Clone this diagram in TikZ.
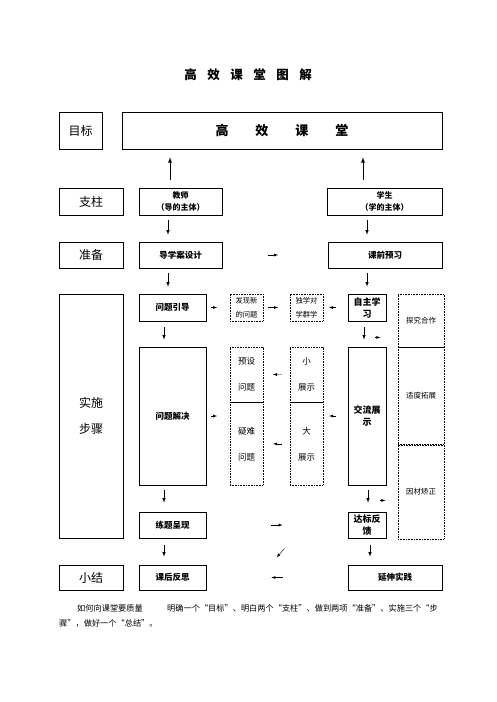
\documentclass[tikz,border=0pt]{standalone}
\usepackage{fontspec}
\setmainfont{Noto Sans CJK SC}
\usetikzlibrary{arrows,positioning,calc}

\begin{document}
\begin{tikzpicture}[x=1pt,
            y=-1pt,
            >=latex,
            lbl/.style={draw,thin,font=\fontsize{12}{14}\selectfont,align=center},
            box/.style={draw,semithick,font=\bfseries\fontsize{8.5}{12}\selectfont,align=center,inner sep=1pt},
            dbox/.style={draw,thin,dash pattern=on .8pt off .8pt,font=\fontsize{7.3}{14}\selectfont,align=center,inner sep=1pt},
            arr/.style={->,semithick},
            tip/.style={->,thin}]

        \useasboundingbox (0,0) rectangle (496,702);

        % title and goal
        \node (title) at (248,75) {\bfseries\fontsize{12.5}{14}\selectfont 高\hspace{10.5pt}效\hspace{10.5pt}课\hspace{10.5pt}堂\hspace{10.5pt}图\hspace{10.5pt}解};
        \node[lbl,minimum width=43,minimum height=37]  (goal)   at (80.5,130.5) {目标};
        \node[box,minimum width=320,minimum height=37,font=\bfseries\fontsize{13}{15}\selectfont]
                                                       (target) at (282,130.5) {高\hspace{27pt}效\hspace{27pt}课\hspace{27pt}堂};

        % pillars and preparation
        \node[lbl,minimum width=64,minimum height=27]  (pillar)  at (91,201.5)  {支柱};
        \node[box,minimum width=83,minimum height=27,font=\bfseries\fontsize{8}{12}\selectfont]
                                                       (teacher) at (180.5,201.5) {教师\\（导的主体）};
        \node[box,minimum width=115,minimum height=27,font=\bfseries\fontsize{8}{12}\selectfont]
                                                       (student) at (384.5,201.5) {学生\\（学的主体）};
        \node[lbl,minimum width=64,minimum height=26]  (prep)    at (91,255)    {准备};
        \node[box,minimum width=83,minimum height=26]  (design)  at (180.5,255) {导学案设计};
        \node[box,minimum width=114,minimum height=26] (preview) at (385,255)   {课前预习};

        % steps
        \node[lbl,minimum width=64,minimum height=244,font=\fontsize{12}{26}\selectfont]
                                                       (impl)     at (91,416)    {实施\\步骤};
        \node[box,minimum width=67,minimum height=27]  (guide)    at (172.5,307.5) {问题引导};
        \node[dbox,minimum width=33,minimum height=27] (discover) at (246.5,307.5) {发现新\\的问题};
        \node[dbox,minimum width=33,minimum height=27] (group)    at (306.5,307.5) {独学对\\学群学};
        \node[box,thick,minimum width=38,minimum height=27,font=\bfseries\fontsize{9}{12}\selectfont]
                                                       (self)     at (367,307.5)   {自主学\\习};
        \node[dbox,minimum width=46,minimum height=53,font=\fontsize{7.5}{9}\selectfont]
                                                       (explore)  at (421,320.5)   {探究合作};
        \node[dbox,minimum width=46,minimum height=97,font=\fontsize{7.5}{9}\selectfont,below=0pt of explore]
                                                       (extend)                    {适度拓展};
        \node[dbox,minimum width=46,minimum height=94,font=\fontsize{7.5}{9}\selectfont,below=0pt of extend]
                                                       (correct)                   {因材矫正};

        \node[box,minimum width=67,minimum height=138] (solve)  at (172.5,416)   {问题解决};
        \node[dbox,minimum width=33,minimum height=55,font=\fontsize{8.5}{26}\selectfont]
                                                       (preset) at (246.5,374.5) {预设\\问题};
        \node[dbox,minimum width=33,minimum height=83,font=\fontsize{8.5}{26}\selectfont,below=0pt of preset]
                                                       (hard)                    {疑难\\问题};
        \node[dbox,minimum width=33,minimum height=55,font=\fontsize{8.5}{26}\selectfont]
                                                       (small)  at (306.5,374.5) {小\\展示};
        \node[dbox,minimum width=33,minimum height=83,font=\fontsize{8.5}{26}\selectfont,below=0pt of small]
                                                       (big)                     {大\\展示};
        \node[box,thick,minimum width=38,minimum height=138,font=\bfseries\fontsize{9}{12}\selectfont]
                                                       (show)   at (367,416)     {交流展\\示};

        \node[box,minimum width=67,minimum height=26]  (practice) at (172.5,525) {练题呈现};
        \node[box,thick,minimum width=38,minimum height=26,font=\bfseries\fontsize{9}{12}\selectfont]
                                                       (feedback) at (367,525)   {达标反\\馈};

        % summary
        \node[lbl,minimum width=64,minimum height=25]  (summary)   at (91,577.5)  {小结};
        \node[box,minimum width=67,minimum height=25]  (reflect)   at (172.5,577.5) {课后反思};
        \node[box,minimum width=94,minimum height=25]  (extension) at (395,577.5) {延伸实践};

        % note below
        \node[anchor=base west,inner sep=0,font=\fontsize{8.2}{15}\selectfont] (howto)   at (77,611) {如何向课堂要质量};
        \node[anchor=base west,inner sep=0,font=\fontsize{8.2}{15}\selectfont] (answer)  at (167,611) {明确一个“目标”、明白两个“支柱”、做到两项“准备”、实施三个“步};
        \node[anchor=base west,inner sep=0,font=\fontsize{8.2}{15}\selectfont] (answerb) at (59,626) {骤”，做好一个“总结”。};

        % vertical arrows
        \draw[arr,thick,shorten <=8,shorten >=8] ([xshift=-10.5]teacher.north) -- ([xshift=-10.5]teacher.north |- target.south);
        \draw[arr,thick,shorten <=8,shorten >=8] ([xshift=-21.5]student.north) -- ([xshift=-21.5]student.north |- target.south);
        \draw[arr,shorten <=5,shorten >=7] ([xshift=-12.5]teacher.south) -- ([xshift=-12.5]teacher.south |- design.north);
        \draw[arr,shorten <=5,shorten >=7] ([xshift=-17.5]student.south) -- ([xshift=-17.5]student.south |- preview.north);
        \draw[arr,shorten <=5,shorten >=7] ([xshift=-12.5]design.south) -- ([xshift=-12.5]design.south |- guide.north);
        \draw[arr,shorten <=5,shorten >=7] (self.north |- preview.south) -- (self.north);
        \draw[arr,shorten <=6,shorten >=7] ([xshift=-8.5]guide.south) -- ([xshift=-8.5]solve.north);
        \draw[arr,shorten <=6,shorten >=7] ([xshift=-3]self.south) -- ([xshift=-3]show.north);
        \draw[arr,shorten <=5,shorten >=9] ([xshift=-8.5]solve.south) -- ([xshift=-8.5]practice.north);
        \draw[arr,shorten <=5,shorten >=9] ([xshift=1]show.south) -- ([xshift=1]feedback.north);
        \draw[arr,shorten <=7,shorten >=8] ([xshift=-8.5]practice.south) -- ([xshift=-8.5]reflect.north);
        \draw[arr,shorten <=7,shorten >=8] ([xshift=3]feedback.south) -- ([xshift=3]feedback.south |- extension.north);

        % small arrows
        \draw[tip] ($(design.east)!.43!(preview.west)$) -- ($(design.east)!.53!(preview.west)$);
        \draw[tip] ($(guide.east)!.21!(discover.west)$) -- ($(guide.east)!.46!(discover.west)$);
        \draw[tip] ($(discover.east)!.19!(group.west)$) -- ($(discover.east)!.56!(group.west)$);
        \draw[tip] ($(group.east)!.52!(self.west)$) -- ($(group.east)!.24!(self.west)$);
        \draw[tip] ([shift={(-11,16)}]self.south east) -- ([shift={(-6,16)}]self.south east);
        \draw[tip] ($(solve.east)!.21!(solve.east -| preset.west)$) -- ($(solve.east)!.46!(solve.east -| preset.west)$);
        \draw[tip] ($(preset.east)!.70!(small.west)$) -- ($(preset.east)!.37!(small.west)$);
        \draw[tip] ($(hard.east)!.70!(big.west)$) -- ($(hard.east)!.37!(big.west)$);
        \draw[tip] ($(show.west)!.48!(show.west -| big.east)$) -- ($(show.west)!.76!(show.west -| big.east)$);
        \draw[tip] ([shift={(-6,15)}]show.south east) -- ([shift={(-1,15)}]show.south east);
        \draw[tip] ($(practice.east)!.46!(feedback.west)$) -- ($(practice.east)!.54!(feedback.west)$);
        \draw[tip] ([shift={(-63,10)}]feedback.south west) -- ([shift={(-71,19)}]feedback.south west);
        \draw[tip] ($(reflect.east)!.54!(extension.west)$) -- ($(reflect.east)!.46!(extension.west)$);

    \end{tikzpicture}
\end{document}
